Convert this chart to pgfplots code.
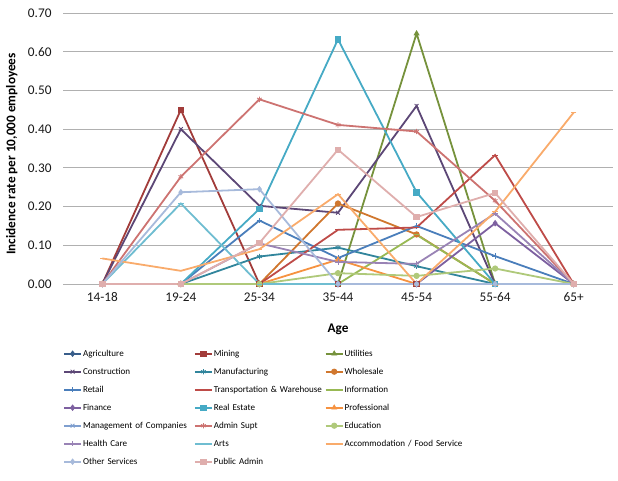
\documentclass[border=0pt]{standalone}
\usepackage{fontspec}
\setmainfont{Carlito}
\usepackage{pgfplots}
\pgfplotsset{compat=1.18}
\definecolor{gridgray}{HTML}{B0B0B0}
\definecolor{cAgr}{HTML}{385D8A}
\definecolor{cMin}{HTML}{A23C3A}
\definecolor{cUti}{HTML}{76923C}
\definecolor{cCon}{HTML}{5C4776}
\definecolor{cMan}{HTML}{31859C}
\definecolor{cWho}{HTML}{D0772E}
\definecolor{cRet}{HTML}{4A7EBB}
\definecolor{cTra}{HTML}{BE4B48}
\definecolor{cInf}{HTML}{98B954}
\definecolor{cFin}{HTML}{7D60A0}
\definecolor{cRea}{HTML}{46AAC5}
\definecolor{cPro}{HTML}{F69240}
\definecolor{cMgt}{HTML}{7F9FCF}
\definecolor{cAdm}{HTML}{CD7371}
\definecolor{cEdu}{HTML}{AFC97A}
\definecolor{cHea}{HTML}{9983B5}
\definecolor{cArt}{HTML}{6FBDD1}
\definecolor{cAcc}{HTML}{F9AB6B}
\definecolor{cOth}{HTML}{A7BADB}
\definecolor{cPub}{HTML}{DFAEAD}
\pgfplotsset{ser/.style={color=#1, line width=1.8bp, mark size=2.7bp, mark options={solid, line width=0.8bp}}}
\begin{document}
\begin{tikzpicture}
\path[use as bounding box] (0,0) rectangle (618bp,481bp);
\begin{axis}[
  at={(63bp,197bp)}, anchor=south west,
  scale only axis, width=550bp, height=271bp,
  xmin=-0.5, xmax=6.5, ymin=0, ymax=0.7,
  xtick={0,1,2,3,4,5,6},
  xticklabels={14-18,19-24,25-34,35-44,45-54,55-64,65+},
  ytick={0,0.1,0.2,0.3,0.4,0.5,0.6,0.7},
  yticklabel style={/pgf/number format/fixed, /pgf/number format/fixed zerofill, /pgf/number format/precision=2, /pgf/number format/assume math mode=true, anchor=east, xshift=-8bp},
  tick label style={font=\fontsize{13.3}{16}\selectfont, text=black!90},
  xticklabel style={anchor=center, yshift=-13bp},
  major tick length=0pt,
  axis line style={draw=none},
  ymajorgrids, grid style={color=gridgray, line width=0.9bp},
  ylabel={Incidence rate per 10,000 employees},
  ylabel style={font=\bfseries\fontsize{13.3}{16}\selectfont, at={(axis description cs:-0.093,0.48)}, anchor=center},
  xlabel={Age},
  xlabel style={font=\bfseries\fontsize{13.3}{16}\selectfont, at={(axis description cs:0.5,0)}, anchor=center, yshift=-45bp},
  clip=false,
  legend columns=3,
  legend cell align=left,
  legend style={at={(axis description cs:0,0)}, anchor=north west, xshift=0bp, yshift=-64bp,
    draw=none, fill=none, inner sep=0pt, font=\fontsize{9.1}{11}\selectfont, row sep=7bp,
    nodes={inner sep=1bp, text height=7bp, text depth=2bp, anchor=west},
    /tikz/every even column/.append style={text width=110bp}},
]
\addplot[ser=cAgr, mark=diamond*] coordinates {(0,0)(1,0)(2,0)(3,0)(4,0)(5,0)(6,0)};
\addlegendentry{Agriculture}
\addplot[ser=cMin, mark=square*] coordinates {(0,0)(1,0.45)(2,0)(3,0)(4,0)(5,0)(6,0)};
\addlegendentry{Mining}
\addplot[ser=cUti, mark=triangle*] coordinates {(0,0)(1,0)(2,0)(3,0)(4,0.647)(5,0)(6,0)};
\addlegendentry{Utilities}
\addplot[ser=cCon, mark=x] coordinates {(0,0)(1,0.40)(2,0.202)(3,0.184)(4,0.46)(5,0)(6,0)};
\addlegendentry{Construction}
\addplot[ser=cMan, mark=asterisk] coordinates {(0,0)(1,0)(2,0.071)(3,0.094)(4,0.046)(5,0)(6,0)};
\addlegendentry{Manufacturing}
\addplot[ser=cWho, mark=*] coordinates {(0,0)(1,0)(2,0)(3,0.208)(4,0.128)(5,0)(6,0)};
\addlegendentry{Wholesale}
\addplot[ser=cRet, mark=+] coordinates {(0,0)(1,0)(2,0.164)(3,0.067)(4,0.150)(5,0.072)(6,0)};
\addlegendentry{Retail}
\addplot[ser=cTra, mark=-] coordinates {(0,0)(1,0)(2,0)(3,0.140)(4,0.146)(5,0.333)(6,0)};
\addlegendentry{\mbox{Transportation \& Warehouse}}
\addplot[ser=cInf, mark=-] coordinates {(0,0)(1,0)(2,0)(3,0)(4,0.127)(5,0)(6,0)};
\addlegendentry{Information}
\addplot[ser=cFin, mark=diamond*] coordinates {(0,0)(1,0)(2,0)(3,0)(4,0)(5,0.157)(6,0)};
\addlegendentry{Finance}
\addplot[ser=cRea, mark=square*] coordinates {(0,0)(1,0)(2,0.194)(3,0.632)(4,0.237)(5,0)(6,0)};
\addlegendentry{Real Estate}
\addplot[ser=cPro, mark=triangle*] coordinates {(0,0)(1,0)(2,0)(3,0.063)(4,0)(5,0)(6,0)};
\addlegendentry{Professional}
\addplot[ser=cMgt, mark=x] coordinates {(0,0)(1,0)(2,0)(3,0)(4,0)(5,0)(6,0)};
\addlegendentry{\mbox{Management of Companies}}
\addplot[ser=cAdm, mark=asterisk] coordinates {(0,0)(1,0.277)(2,0.477)(3,0.411)(4,0.394)(5,0.215)(6,0)};
\addlegendentry{Admin Supt}
\addplot[ser=cEdu, mark=*] coordinates {(0,0)(1,0)(2,0)(3,0.028)(4,0.021)(5,0.040)(6,0)};
\addlegendentry{Education}
\addplot[ser=cHea, mark=+] coordinates {(0,0)(1,0)(2,0.105)(3,0.057)(4,0.052)(5,0.182)(6,0)};
\addlegendentry{Health Care}
\addplot[ser=cArt, mark=-] coordinates {(0,0)(1,0.208)(2,0)(3,0)(4,0)(5,0)(6,0)};
\addlegendentry{Arts}
\addplot[ser=cAcc, mark=-] coordinates {(0,0.066)(1,0.034)(2,0.090)(3,0.232)(4,0)(5,0.187)(6,0.443)};
\addlegendentry{\mbox{Accommodation / Food Service}}
\addplot[ser=cOth, mark=diamond*] coordinates {(0,0)(1,0.237)(2,0.245)(3,0)(4,0)(5,0)(6,0)};
\addlegendentry{Other Services}
\addplot[ser=cPub, mark=square*] coordinates {(0,0)(1,0)(2,0.106)(3,0.347)(4,0.173)(5,0.235)(6,0)};
\addlegendentry{Public Admin}
\end{axis}
\end{tikzpicture}
\end{document}
